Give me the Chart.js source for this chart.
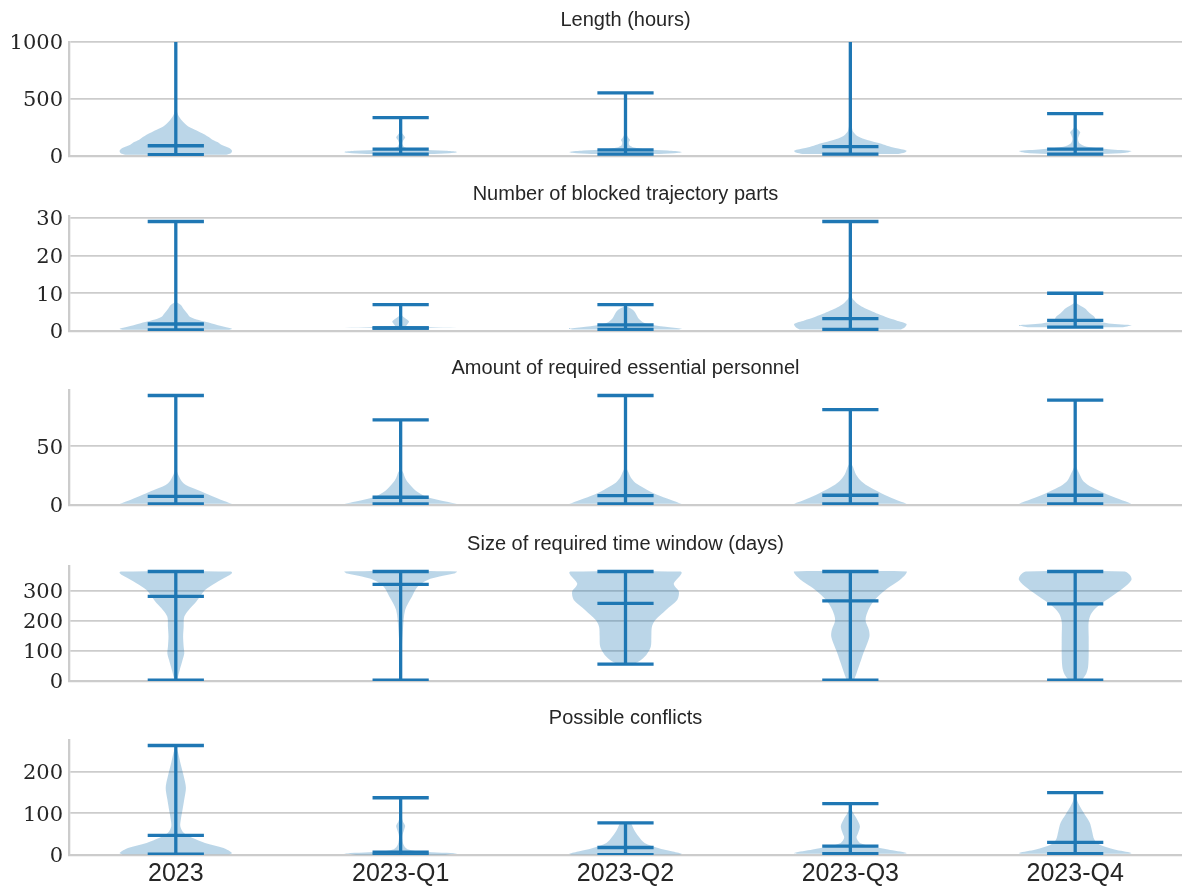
<!DOCTYPE html>
<html>
<head>
<meta charset="utf-8">
<script src="https://cdn.jsdelivr.net/npm/chart.js@4.4.1/dist/chart.umd.min.js"></script>
<style>
  html, body { margin: 0; padding: 0; background: #fff; overflow: hidden; }
  body { width: 1182px; height: 888px; position: relative; }
  canvas { position: absolute; left: 0; }
</style>
</head>
<body>
<canvas id="panel0"></canvas>
<canvas id="panel1"></canvas>
<canvas id="panel2"></canvas>
<canvas id="panel3"></canvas>
<canvas id="panel4"></canvas>
<script>
// categories and panel texts
const categories = ['2023', '2023-Q1', '2023-Q2', '2023-Q3', '2023-Q4'];
const positions = [1, 2, 3, 4, 5];
const panelTitles = [
  'Length (hours)',
  'Number of blocked trajectory parts',
  'Amount of required essential personnel',
  'Size of required time window (days)',
  'Possible conflicts'
];
const yTickValues = [[0, 500, 1000], [0, 10, 20, 30], [0, 50], [0, 100, 200, 300], [0, 100, 200]];
const yLimits = [1000, 30.45, 97.65, 383.25, 275.1];

// min / median / max per category
const lengthMin = [12, 17, 17, 17, 17];
const lengthMedian = [90, 61, 53, 82, 61];
const lengthMax = [1250, 336, 553, 1250, 371];

const blockedMin = [0.3, 0.8, 0.4, 0.4, 1];
const blockedMedian = [1.85, 0.8, 1.6, 3.3, 2.8];
const blockedMax = [29, 7, 7, 29, 10];

const personnelMin = [1, 1, 1, 1, 1];
const personnelMedian = [7.3, 6.6, 7.9, 8.3, 8.3];
const personnelMax = [93, 72.3, 93, 81, 89];

const windowMin = [3, 3, 56, 3, 3];
const windowMedian = [282, 322, 259, 267, 257];
const windowMax = [365, 365, 365, 365, 365];

const conflictsMin = [2, 0.5, 1, 3, 3];
const conflictsMedian = [47, 7, 18, 21, 30];
const conflictsMax = [262, 137, 77, 123, 149];

// violin outlines: [value, relative density (1 = widest)]
const lengthShapes = [
  [[12, 0.9], [25, 0.98], [45, 1.0], [70, 0.95], [96, 0.82], [120, 0.75], [140, 0.66], [170, 0.57], [199, 0.47], [230, 0.34], [257, 0.23], [290, 0.15], [316, 0.1], [350, 0.05], [375, 0.03], [410, 0.01], [500, 0.004], [1250, 0]],
  [[17, 0.6], [28, 0.95], [36, 1.0], [45, 0.8], [55, 0.35], [65, 0.15], [80, 0.06], [110, 0.03], [140, 0.05], [165, 0.08], [185, 0.05], [215, 0.01], [336, 0]],
  [[17, 0.6], [28, 0.95], [36, 1.0], [48, 0.75], [60, 0.35], [75, 0.15], [95, 0.07], [120, 0.06], [140, 0.08], [160, 0.05], [190, 0.02], [260, 0.005], [553, 0]],
  [[17, 0.85], [30, 0.97], [47, 1.0], [70, 0.8], [90, 0.65], [111, 0.52], [140, 0.3], [170, 0.14], [213, 0.05], [246, 0.03], [300, 0.01], [400, 0.003], [1250, 0]],
  [[17, 0.5], [29, 0.9], [44, 1.0], [60, 0.6], [82, 0.21], [110, 0.08], [150, 0.05], [185, 0.07], [208, 0.09], [230, 0.05], [260, 0.01], [371, 0]]
];
const blockedShapes = [
  [[0.3, 0.95], [0.6, 1.0], [1.1, 0.86], [2, 0.64], [2.9, 0.41], [3.8, 0.25], [4.7, 0.2], [5.6, 0.15], [6.9, 0.09], [7.6, 0.02], [9, 0.005], [29, 0]],
  [[0.8, 1.0], [1.0, 0.5], [1.3, 0.1], [1.8, 0.12], [2.5, 0.15], [3.2, 0.1], [4, 0.03], [5, 0.01], [7, 0]],
  [[0.4, 0.95], [0.6, 1.0], [1.1, 0.71], [2, 0.36], [3.2, 0.24], [4.7, 0.18], [5.6, 0.13], [6.2, 0.06], [6.6, 0.01], [7, 0]],
  [[0.4, 0.9], [1, 0.97], [1.85, 1.0], [2.8, 0.82], [3.8, 0.62], [4.7, 0.46], [5.6, 0.32], [6.5, 0.2], [7.3, 0.12], [8.2, 0.06], [9.1, 0.02], [10, 0.005], [29, 0]],
  [[1, 0.85], [1.5, 1.0], [2, 0.6], [2.5, 0.4], [2.9, 0.37], [3.8, 0.34], [4.7, 0.26], [6, 0.17], [7.1, 0.05], [7.5, 0.02], [10, 0]]
];
const personnelShapes = [
  [[1, 1.0], [4.5, 0.8], [8.7, 0.59], [12.5, 0.4], [17, 0.18], [20, 0.11], [24, 0.06], [28.5, 0.02], [31, 0.005], [93, 0]],
  [[1, 1.0], [3, 0.8], [7.3, 0.44], [12, 0.27], [18.6, 0.14], [23, 0.08], [27, 0.05], [31, 0.01], [72.3, 0]],
  [[1, 1.0], [4.5, 0.8], [9, 0.55], [13, 0.38], [18, 0.2], [23, 0.1], [28, 0.05], [33, 0.01], [93, 0]],
  [[1, 1.0], [5, 0.78], [10, 0.55], [15, 0.35], [20, 0.2], [26, 0.1], [32, 0.05], [37, 0.01], [81, 0]],
  [[1, 1.0], [5, 0.78], [10, 0.52], [15, 0.3], [20, 0.15], [26, 0.08], [31, 0.03], [34, 0.01], [89, 0]]
];
const windowShapes = [
  [[3, 0.02], [9, 0.03], [37, 0.07], [70, 0.12], [92, 0.15], [114, 0.14], [148, 0.13], [181, 0.14], [214, 0.15], [237, 0.23], [259, 0.34], [281, 0.43], [303, 0.52], [326, 0.7], [348, 0.91], [360, 1.0], [365, 0.98]],
  [[3, 0.02], [100, 0.02], [170, 0.04], [237, 0.08], [281, 0.2], [314, 0.3], [337, 0.48], [348, 0.69], [358, 0.95], [365, 1.0]],
  [[56, 0.12], [62, 0.2], [67, 0.25], [87, 0.37], [114, 0.45], [148, 0.46], [181, 0.47], [203, 0.53], [237, 0.72], [270, 0.92], [298, 0.95], [315, 0.88], [326, 0.86], [348, 0.96], [360, 1.0], [365, 0.98]],
  [[3, 0.06], [6, 0.07], [26, 0.11], [59, 0.17], [92, 0.23], [120, 0.29], [148, 0.34], [170, 0.33], [203, 0.27], [237, 0.32], [270, 0.43], [292, 0.55], [314, 0.7], [337, 0.88], [355, 0.98], [365, 1.0]],
  [[3, 0.08], [7, 0.13], [26, 0.2], [48, 0.23], [92, 0.24], [148, 0.24], [198, 0.24], [226, 0.29], [253, 0.43], [281, 0.64], [309, 0.85], [337, 1.0], [352, 0.98], [365, 0.88]]
];
const conflictsShapes = [
  [[2, 0.95], [5, 1.0], [17, 0.85], [29, 0.52], [41, 0.29], [53, 0.14], [69, 0.08], [85, 0.09], [101, 0.11], [133, 0.15], [161, 0.18], [189, 0.14], [221, 0.08], [245, 0.04], [262, 0]],
  [[0.5, 0.8], [4, 1.0], [8, 0.4], [14, 0.12], [25, 0.05], [45, 0.03], [60, 0.06], [70, 0.08], [80, 0.04], [100, 0.01], [137, 0]],
  [[1, 0.95], [3, 1.0], [9, 0.82], [17, 0.58], [29, 0.34], [45, 0.23], [61, 0.15], [73, 0.11], [77, 0.08]],
  [[3, 0.95], [5, 1.0], [13, 0.67], [21, 0.38], [29, 0.17], [41, 0.11], [53, 0.14], [69, 0.17], [85, 0.12], [101, 0.05], [115, 0.01], [123, 0]],
  [[3, 0.95], [5, 1.0], [13, 0.7], [25, 0.43], [37, 0.34], [57, 0.3], [77, 0.26], [97, 0.17], [117, 0.08], [133, 0.03], [149, 0]]
];

const panelStats = [
  [lengthMin, lengthMedian, lengthMax, lengthShapes],
  [blockedMin, blockedMedian, blockedMax, blockedShapes],
  [personnelMin, personnelMedian, personnelMax, personnelShapes],
  [windowMin, windowMedian, windowMax, windowShapes],
  [conflictsMin, conflictsMedian, conflictsMax, conflictsShapes]
];

// layout (pixels)
const plotTop = [42, 216, 390, 566, 740];
const plotBottom = [156, 331, 505, 681, 855];
const TITLE_H = 42;
const BOTTOM_PAD = 19;

const BLUE = '#1f77b4';
const BODY = 'rgba(31, 119, 180, 0.3)';
const HALF = 0.25;   // violin half width in x units
const CAP = 0.125;   // cap half length
const SANS = "'Liberation Sans', Arial, sans-serif";
const SERIF = "'DejaVu Serif', serif";

function violinPoints(pos, shape) {
  const right = shape.map(([v, w]) => ({ x: pos + w * HALF, y: v }));
  const left = shape.slice().reverse().map(([v, w]) => ({ x: pos - w * HALF, y: v }));
  return right.concat(left);
}

function buildDatasets(mins, medians, maxs, shapes) {
  const bodies = shapes.map((shape, i) => ({
    data: violinPoints(positions[i], shape),
    fill: 'shape', backgroundColor: BODY, borderColor: 'rgba(0,0,0,0)', borderWidth: 0,
    tension: 0.3, pointRadius: 0, clip: 0
  }));
  const bars = [], caps = [], meds = [];
  positions.forEach((p, i) => {
    bars.push({ x: p, y: mins[i] }, { x: p, y: maxs[i] }, { x: p, y: null });
    caps.push({ x: p - CAP, y: mins[i] }, { x: p + CAP, y: mins[i] }, { x: p, y: null },
              { x: p - CAP, y: maxs[i] }, { x: p + CAP, y: maxs[i] }, { x: p, y: null });
    meds.push({ x: p - CAP, y: medians[i] }, { x: p + CAP, y: medians[i] }, { x: p, y: null });
  });
  const lineStyle = { borderColor: BLUE, borderWidth: 3.3, pointRadius: 0, fill: false,
                      tension: 0, clip: 0, spanGaps: false, borderCapStyle: 'butt' };
  return bodies.concat([
    { data: bars, ...lineStyle },
    { data: caps, ...lineStyle },
    { data: meds, ...lineStyle }
  ]);
}

Chart.defaults.font.family = SANS;

panelStats.forEach(([mins, medians, maxs, shapes], i) => {
  const isLast = i === panelStats.length - 1;
  const canvas = document.getElementById('panel' + i);
  const top = plotTop[i] - TITLE_H;
  const xLabelH = 25 * 1.2 + 2 * 4;
  const height = plotBottom[i] - plotTop[i] + TITLE_H + (isLast ? xLabelH : BOTTOM_PAD);
  canvas.width = 1182;
  canvas.height = Math.round(height);
  canvas.style.top = top + 'px';

  new Chart(canvas, {
    type: 'line',
    data: { datasets: buildDatasets(mins, medians, maxs, shapes) },
    options: {
      responsive: false,
      animation: false,
      events: [],
      layout: { padding: { left: 0, right: 0, top: 0, bottom: isLast ? 0 : BOTTOM_PAD } },
      plugins: {
        legend: { display: false },
        tooltip: { enabled: false },
        title: {
          display: true,
          fullSize: false,
          text: panelTitles[i],
          color: '#262626',
          font: { family: SANS, size: 20, weight: 'normal' },
          padding: { top: 8, bottom: 10 }
        }
      },
      scales: {
        x: {
          type: 'linear',
          min: 0.525,
          max: 5.475,
          afterBuildTicks: s => { s.ticks = positions.map(v => ({ value: v })); },
          grid: { display: false, drawTicks: false },
          border: { display: true, color: '#cccccc', width: 2.3 },
          ticks: {
            display: isLast,
            padding: 4,
            autoSkip: false,
            maxRotation: 0,
            color: '#262626',
            font: { family: SANS, size: 25 },
            callback: v => categories[positions.indexOf(v)]
          }
        },
        y: {
          type: 'linear',
          min: 0,
          max: yLimits[i],
          afterFit: s => { s.width = 69; },
          afterBuildTicks: s => { s.ticks = yTickValues[i].map(v => ({ value: v })); },
          grid: { color: '#cccccc', lineWidth: 1.7, drawTicks: false },
          border: { display: true, color: '#cccccc', width: 2.3 },
          ticks: {
            padding: 6,
            labelOffset: 2,
            autoSkip: false,
            color: '#262626',
            font: { family: SERIF, size: 21 },
            callback: v => String(v)
          }
        }
      }
    }
  });
});
</script>
</body>
</html>
